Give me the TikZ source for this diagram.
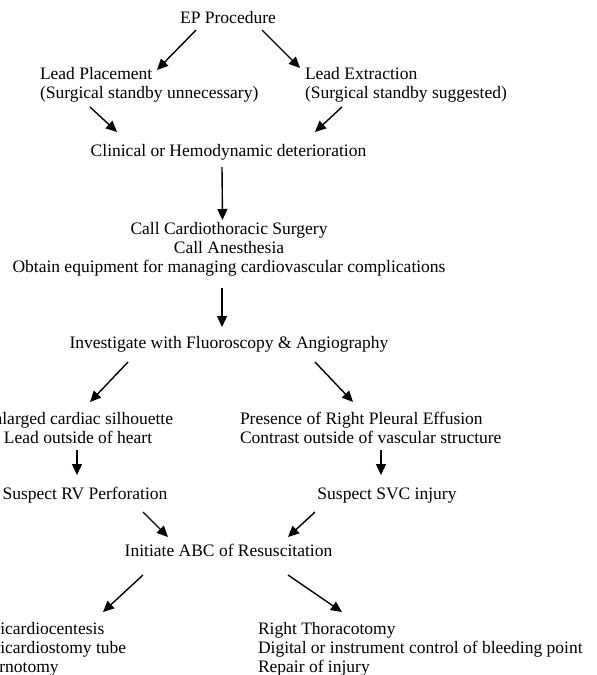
\documentclass[tikz,border=0pt]{standalone}
\usepackage{fontspec}
\setmainfont{Liberation Serif}
\usetikzlibrary{arrows.meta}
\tikzset{
  txt/.style={inner sep=0pt, outer sep=0pt, font=\fontsize{17.5}{19}\selectfont},
  ctxt/.style={txt, align=center},
  ltxt/.style={txt, align=left, anchor=north west},
  arr/.style={line width=1.4pt, -{Triangle[length=11pt,width=10pt]}}
}
\begin{document}
\begin{tikzpicture}[x=1pt,y=-1pt]
\useasboundingbox (0,0) rectangle (597,675);
\clip (0,0) rectangle (597,675);
% nodes
\node[ctxt] (ep) at (228,20) {\strut EP Procedure};
\node[ltxt] (lp) at (40,66.5) {\strut Lead Placement\\(Surgical standby unnecessary)};
\node[ltxt] (le) at (305,66.5) {\strut Lead Extraction\\(Surgical standby suggested)};
\node[ctxt] (clin) at (228.5,153) {\strut Clinical or Hemodynamic deterioration};
\node[ctxt, anchor=north] (call) at (229,221.5) {\strut Call Cardiothoracic Surgery\\Call Anesthesia\\Obtain equipment for managing cardiovascular complications};
\node[ctxt] (inv) at (229,345) {\strut Investigate with Fluoroscopy \& Angiography};
\node[ctxt, anchor=north] (enl) at (78,411.5) {\strut Enlarged cardiac silhouette\\Lead outside of heart};
\node[ltxt] (pres) at (240,411.5) {\strut Presence of Right Pleural Effusion\\Contrast outside of vascular structure};
\node[ctxt] (rv) at (85,496) {\strut Suspect RV Perforation};
\node[ctxt] (svc) at (387,496) {\strut Suspect SVC injury};
\node[ctxt] (abc) at (228.5,553) {\strut Initiate ABC of Resuscitation};
\node[ltxt] (peri) at (-23,621.5) {\strut Pericardiocentesis\\Pericardiostomy tube\\Sternotomy};
\node[ltxt] (thor) at (258,621.5) {\strut Right Thoracotomy\\Digital or instrument control of bleeding point\\Repair of injury};
% connectors
\draw[arr] ([shift={(-32,10)}]ep.center) -- ([shift={(117,3.5)}]lp.north west);
\draw[arr] ([shift={(34,10)}]ep.center) -- ([shift={(-5,1.5)}]le.north west);
\draw[arr] ([shift={(50,40.5)}]lp.north west) -- ([shift={(-111.5,-21)}]clin.center);
\draw[arr] ([shift={(37,40.5)}]le.north west) -- ([shift={(86.5,-21)}]clin.center);
\draw[arr] ([shift={(-6.5,14)}]clin.center) -- ([shift={(-6.5,-1.5)}]call.north);
\draw[arr] ([shift={(-7,66.5)}]call.north) -- ([shift={(-7,-18)}]inv.center);
\draw[arr] ([shift={(-101,17)}]inv.center) -- ([shift={(12,-9.5)}]enl.north);
\draw[arr] ([shift={(86,17)}]inv.center) -- ([shift={(113,-9.5)}]pres.north west);
\draw[arr] ([shift={(-1,38.5)}]enl.north) -- ([shift={(-8,-21)}]rv.center);
\draw[arr] ([shift={(141,38.5)}]pres.north west) -- ([shift={(-6,-21)}]svc.center);
\draw[arr] ([shift={(58,16)}]rv.center) -- ([shift={(-60.5,-16)}]abc.center);
\draw[arr] ([shift={(-72,16)}]svc.center) -- ([shift={(59.5,-16)}]abc.center);
\draw[arr] ([shift={(-85.5,22)}]abc.center) -- ([shift={(126,-9.5)}]peri.north west);
\draw[arr] ([shift={(59.5,22)}]abc.center) -- ([shift={(84,-9.5)}]thor.north west);
\end{tikzpicture}
\end{document}
